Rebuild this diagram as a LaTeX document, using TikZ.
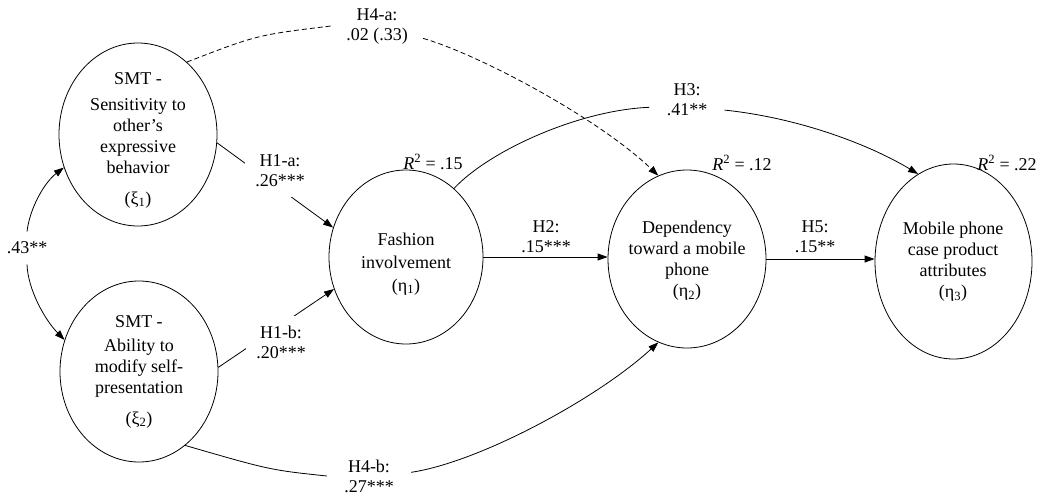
\documentclass[tikz,border=0pt]{standalone}
\usepackage{fontspec}
\setmainfont{Liberation Serif}
\usetikzlibrary{shapes.geometric,arrows.meta}
\begin{document}
\begin{tikzpicture}[x=1pt,y=-1pt,
  font=\fontsize{18}{21}\selectfont,
  line width=0.8pt,
  lat/.style={draw, ellipse, inner sep=0pt},
  txt/.style={align=center, inner sep=0pt},
  lbl/.style={align=center, inner sep=2pt, font=\fontsize{18}{20}\selectfont},
  arr/.style={-{Triangle[length=10pt,width=7pt]}},
  dsh/.style={dash pattern=on 5pt off 3pt}]
\useasboundingbox (0,0) rectangle (1040,495);

% latent variables
\node[lat, minimum width=158pt, minimum height=183pt] (xi1) at (138,134.5) {};
\node[lat, minimum width=158pt, minimum height=181pt] (xi2) at (139,371.5) {};
\node[lat, minimum width=154pt, minimum height=174pt] (eta1) at (406,257) {};
\node[lat, minimum width=158pt, minimum height=178pt] (eta2) at (687,259) {};
\node[lat, minimum width=157pt, minimum height=195pt] (eta3) at (953.5,261.5) {};

% texts inside
\node[txt] (t1) at (138,140) {SMT -\\[5pt] Sensitivity to\\ other’s\\ expressive\\ behavior\\[10pt] (ξ\textsubscript{1})};
\node[txt] (t2) at (139,371.5) {SMT -\\[3pt] Ability to\\ modify self-\\ presentation\\[10pt] (ξ\textsubscript{2})};
\node[txt] (t3) at (406,264) {Fashion\\[2pt] involvement\\[2pt] (η\textsubscript{1})};
\node[txt] (t4) at (687,261) {Dependency\\ toward a mobile\\ phone\\ (η\textsubscript{2})};
\node[txt] (t5) at (953,262) {Mobile phone\\ case product\\ attributes\\ (η\textsubscript{3})};

% R squared
\node (r1) at (433,162) {\textit{R}\textsuperscript{2} = .15};
\node (r2) at (742,163) {\textit{R}\textsuperscript{2} = .12};
\node (r3) at (1007,163) {\textit{R}\textsuperscript{2} = .22};

% H1 paths (label drawn on top)
\draw[arr] (xi1.-6) -- (eta1.158);
\draw[arr] (xi2.3) -- (eta1.204);
\node[lbl, fill=white, inner sep=10pt] (h1a) at (280,171) {H1-a:\\.26***};
\node[lbl, fill=white, inner sep=10pt] (h1b) at (281,342) {H1-b:\\.20***};

% other labels
\node[lbl] (h2) at (546,237) {H2:\\.15***};
\node[lbl] (h5) at (815,237) {H5:\\.15**};
\node[lbl, inner xsep=15pt] (h4a) at (377,26) {H4-a:\\.02 (.33)};
\node[lbl, inner xsep=17pt] (h3) at (687,100) {H3:\\.41**};
\node[lbl, inner xsep=17pt] (h4b) at (369,476) {H4-b:\\.27***};
\node[lbl, inner ysep=10pt] (c43) at (27,248) {.43**};

% correlation
\draw[arr] (c43.north) .. controls (30,207) and (45,182) .. (xi1.204);
\draw[arr] (c43.south) .. controls (28,290) and (45,320) .. (xi2.157);

% straight paths
\draw[arr] (eta1.east) -- (eta1.east -| eta2.west);
\draw[arr] (eta2.east) -- (eta2.east -| eta3.west);

% H4-a dashed
\draw[dsh] (xi1.56) .. controls (257,35) .. (h4a.west);
\draw[dsh, arr] (h4a.-15) .. controls (480,55) and (598,118) .. (eta2.109);

% H3
\draw (eta1.55) .. controls (490,150) and (580,110) .. (h3.191);
\draw[arr] (h3.-15) .. controls (800,118) and (870,145) .. (eta3.112);

% H4-b
\draw (xi2.302) .. controls (270,470) .. (h4b.west);
\draw[arr] (h4b.5) .. controls (480,462) and (598,398) .. (eta2.251);
\end{tikzpicture}
\end{document}
